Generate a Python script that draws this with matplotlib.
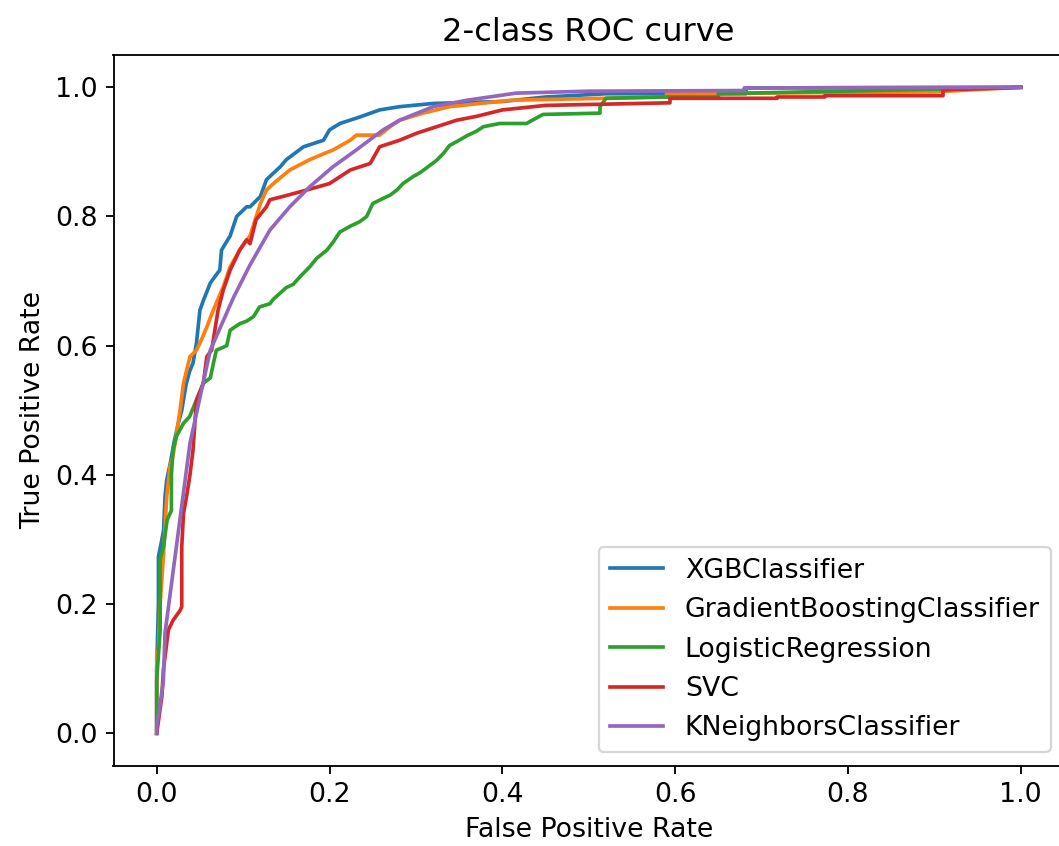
import matplotlib
matplotlib.use("Agg")
import matplotlib.pyplot as plt

labels = ["XGBClassifier", "GradientBoostingClassifier", "LogisticRegression",
          "SVC", "KNeighborsClassifier"]

xgb_fpr = [0, 0, 0.002, 0.002, 0.006, 0.008, 0.0096, 0.0116, 0.016, 0.02, 0.025, 0.029,
           0.034, 0.038, 0.042, 0.046, 0.05, 0.054, 0.062, 0.069, 0.073, 0.075, 0.085,
           0.0925, 0.104, 0.108, 0.12, 0.127, 0.143, 0.15, 0.17, 0.193, 0.2, 0.212,
           0.235, 0.258, 0.281, 0.32, 0.40, 0.45, 0.52, 0.682, 0.682, 1.0]
xgb_tpr = [0, 0.10, 0.20, 0.273, 0.30, 0.315, 0.366, 0.392, 0.42, 0.45, 0.48, 0.50,
           0.54, 0.56, 0.573, 0.604, 0.655, 0.67, 0.697, 0.71, 0.717, 0.748, 0.77,
           0.80, 0.815, 0.815, 0.831, 0.857, 0.877, 0.888, 0.908, 0.918, 0.934, 0.944,
           0.954, 0.965, 0.970, 0.975, 0.978, 0.985, 0.990, 0.990, 0.999, 1.0]

gb_fpr = [0, 0, 0.002, 0.004, 0.008, 0.0116, 0.0154, 0.019, 0.023, 0.027, 0.031, 0.0385,
          0.046, 0.052, 0.058, 0.064, 0.069, 0.077, 0.085, 0.096, 0.108, 0.12, 0.127,
          0.135, 0.154, 0.177, 0.204, 0.224, 0.231, 0.258, 0.27, 0.281, 0.308, 0.339,
          0.41, 0.59, 0.59, 0.90, 1.0]
gb_tpr = [0, 0.12, 0.13, 0.20, 0.28, 0.366, 0.413, 0.43, 0.464, 0.50, 0.542, 0.583,
          0.593, 0.61, 0.629, 0.65, 0.666, 0.691, 0.722, 0.748, 0.77, 0.82, 0.841,
          0.851, 0.872, 0.888, 0.903, 0.918, 0.926, 0.926, 0.939, 0.949, 0.960, 0.970,
          0.980, 0.985, 0.990, 0.993, 1.0]

lr_fpr = [0, 0, 0.004, 0.004, 0.008, 0.012, 0.017, 0.017, 0.019, 0.023, 0.031, 0.038,
          0.046, 0.054, 0.062, 0.066, 0.069, 0.081, 0.085, 0.096, 0.104, 0.112, 0.119,
          0.131, 0.135, 0.150, 0.158, 0.166, 0.177, 0.185, 0.197, 0.204, 0.212, 0.224,
          0.235, 0.243, 0.25, 0.262, 0.27, 0.278, 0.285, 0.297, 0.305, 0.315, 0.324,
          0.332, 0.339, 0.35, 0.359, 0.37, 0.378, 0.397, 0.428, 0.436, 0.447, 0.513,
          0.513, 0.52, 0.586, 0.65, 0.65, 1.0]
lr_tpr = [0, 0.083, 0.16, 0.27, 0.29, 0.33, 0.345, 0.40, 0.44, 0.46, 0.48, 0.49,
          0.516, 0.542, 0.55, 0.575, 0.593, 0.60, 0.624, 0.634, 0.638, 0.645, 0.66,
          0.665, 0.672, 0.69, 0.695, 0.707, 0.722, 0.735, 0.748, 0.76, 0.776, 0.785,
          0.792, 0.80, 0.82, 0.828, 0.833, 0.841, 0.851, 0.862, 0.868, 0.878, 0.887,
          0.898, 0.910, 0.918, 0.925, 0.932, 0.939, 0.944, 0.944, 0.95, 0.958, 0.960,
          0.970, 0.983, 0.985, 0.985, 0.990, 1.0]

svc_fpr = [0, 0.006, 0.0077, 0.0135, 0.019, 0.027, 0.029, 0.029, 0.031, 0.035, 0.0385,
           0.042, 0.046, 0.054, 0.058, 0.0636, 0.071, 0.077, 0.085, 0.096, 0.104, 0.108,
           0.115, 0.127, 0.131, 0.146, 0.1735, 0.2, 0.224, 0.247, 0.258, 0.281, 0.301,
           0.324, 0.347, 0.37, 0.40, 0.45, 0.594, 0.594, 0.718, 0.718, 0.773, 0.773,
           0.91, 0.91, 1.0]
svc_tpr = [0, 0.057, 0.098, 0.16, 0.175, 0.19, 0.196, 0.289, 0.34, 0.37, 0.40,
           0.438, 0.515, 0.542, 0.583, 0.593, 0.655, 0.686, 0.717, 0.748, 0.764, 0.758,
           0.795, 0.815, 0.826, 0.831, 0.841, 0.851, 0.872, 0.882, 0.908, 0.918, 0.929,
           0.939, 0.949, 0.955, 0.965, 0.972, 0.976, 0.983, 0.983, 0.985, 0.985, 0.987,
           0.987, 0.996, 1.0]

knn_fpr = [0, 0, 0.0077, 0.0096, 0.0385, 0.062, 0.089, 0.108, 0.131, 0.154, 0.177,
           0.204, 0.231, 0.262, 0.281, 0.32, 0.359, 0.416, 0.5, 0.68, 0.68, 1.0]
knn_tpr = [0, 0.01, 0.08, 0.155, 0.449, 0.593, 0.675, 0.725, 0.779, 0.815, 0.846,
           0.877, 0.903, 0.934, 0.949, 0.970, 0.980, 0.991, 0.994, 0.995, 0.999, 1.0]

series = [(xgb_fpr, xgb_tpr), (gb_fpr, gb_tpr), (lr_fpr, lr_tpr),
          (svc_fpr, svc_tpr), (knn_fpr, knn_tpr)]

plt.rcParams["font.size"] = 11.7
plt.rcParams["axes.titlesize"] = 14
plt.rcParams["lines.linewidth"] = 1.6

DPI = 165
fig = plt.figure(figsize=(1059 / DPI, 846 / DPI), dpi=DPI)
W, H = 1059, 846
left, right, bottom, top = 113.5, 1064, 765.6, 55
ax = fig.add_axes([left / W, (H - bottom) / H, (right - left) / W, (bottom - top) / H])

for (f, t), lab in zip(series, labels):
    ax.plot(f, t, label=lab)

ax.set_xlabel("False Positive Rate")
ax.set_ylabel("True Positive Rate")
ax.set_title("2-class ROC curve")
ax.legend(loc="lower right")

fig.savefig("out.png", dpi=DPI)
